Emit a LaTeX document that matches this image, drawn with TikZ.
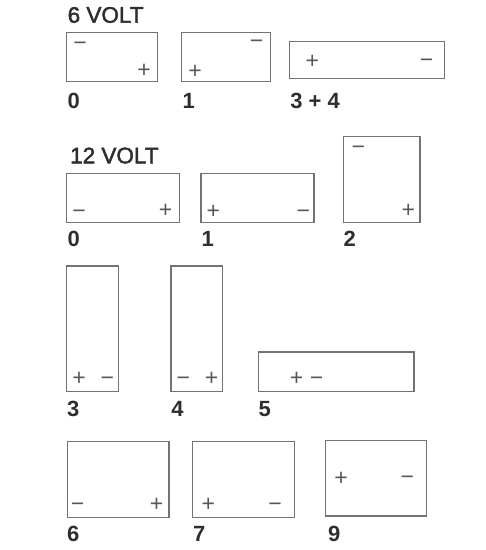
\documentclass[tikz,border=0pt]{standalone}
\usepackage{fontspec}
\setmainfont{Liberation Sans}
\newcommand{\semibold}[1]{\special{pdf:literal direct 2 Tr 0.45 w}#1\special{pdf:literal direct 0 Tr}}
\begin{document}
\begin{tikzpicture}[x=1pt,y=-1pt,
  bat/.style={draw=black!55, line width=1.2pt, inner sep=0pt, outer sep=0pt},
  sgn/.style={inner sep=0pt, anchor=base, yshift=-7.6pt, text=black!66, font=\fontsize{23}{23}\selectfont},
  lbl/.style={inner sep=0pt, anchor=base west, text=black!82, font=\fontsize{22}{22}\selectfont\bfseries},
  ttl/.style={inner sep=0pt, anchor=base west, text=black!82, font=\fontsize{22.5}{22.5}\selectfont}]
\useasboundingbox (0,0) rectangle (486,550);
% titles
\node[ttl] (t6) at (67.5,22.7) {\semibold{6 VOLT}};
\node[ttl] (t12) at (70,163.3) {\semibold{12 VOLT}};
% 6 volt boxes
\node[bat, minimum width=90.6pt, minimum height=49pt] (a0) at (112,57.2) {};
\node[bat, minimum width=89pt, minimum height=49pt] (a1) at (226.2,57.2) {};
\node[bat, minimum width=155pt, minimum height=36.6pt] (a34) at (366.8,60) {};
\node[sgn] (a0m) at (80,43) {−};
\node[sgn] (a0p) at (144,70) {+};
\node[sgn] (a1m) at (256.7,40.7) {−};
\node[sgn] (a1p) at (195,70.7) {+};
\node[sgn] (a34p) at (312.3,60.7) {+};
\node[sgn] (a34m) at (426.7,60) {−};
\node[lbl] (la0) at (67.5,108) {0};
\node[lbl] (la1) at (182.5,108) {1};
\node[lbl] (la34) at (290.2,108) {3 + 4};
% 12 volt row 1
\node[bat, minimum width=112.6pt, minimum height=49.4pt] (b0) at (123,198) {};
\node[bat, minimum width=113pt, minimum height=49.4pt] (b1) at (257.5,198) {};
\node[bat, minimum width=76.7pt, minimum height=86pt] (b2) at (381.65,179.7) {};
\node[sgn] (b0m) at (79,211) {−};
\node[sgn] (b0p) at (165.7,210.3) {+};
\node[sgn] (b1p) at (213.3,211) {+};
\node[sgn] (b1m) at (303.3,211) {−};
\node[sgn] (b2m) at (358.3,146.7) {−};
\node[sgn] (b2p) at (408.3,210.3) {+};
\node[lbl] (lb0) at (67.5,246.7) {0};
\node[lbl] (lb1) at (201.5,246.7) {1};
\node[lbl] (lb2) at (343.5,246.7) {2};
% row 2
\node[bat, minimum width=51.6pt, minimum height=125.7pt] (c3) at (92.5,328.85) {};
\node[bat, minimum width=51.3pt, minimum height=125.7pt] (c4) at (196.65,328.85) {};
\node[bat, minimum width=155.7pt, minimum height=39.7pt] (c5) at (336.15,371.85) {};
\node[sgn] (c3p) at (79,378.3) {+};
\node[sgn] (c3m) at (107.3,378.3) {−};
\node[sgn] (c4m) at (183.3,378.3) {−};
\node[sgn] (c4p) at (211.7,378.3) {+};
\node[sgn] (c5p) at (296.7,378.3) {+};
\node[sgn] (c5m) at (316.7,378.3) {−};
\node[lbl] (lc3) at (66.8,416.7) {3};
\node[lbl] (lc4) at (171.2,416.7) {4};
\node[lbl] (lc5) at (258.5,416.7) {5};
% row 3
\node[bat, minimum width=101.7pt, minimum height=75.6pt] (d6) at (118.15,479.5) {};
\node[bat, minimum width=101.6pt, minimum height=75.6pt] (d7) at (243.5,479.5) {};
\node[bat, minimum width=101.4pt, minimum height=75.3pt] (d9) at (376,478.35) {};
\node[sgn] (d6m) at (77.7,504) {−};
\node[sgn] (d6p) at (156.7,504) {+};
\node[sgn] (d7p) at (208.3,504) {+};
\node[sgn] (d7m) at (275,504) {−};
\node[sgn] (d9p) at (341,478.3) {+};
\node[sgn] (d9m) at (407.3,477.3) {−};
\node[lbl] (ld6) at (66.8,541.7) {6};
\node[lbl] (ld7) at (192.8,541.7) {7};
\node[lbl] (ld9) at (327.8,541.7) {9};
\end{tikzpicture}
\end{document}
